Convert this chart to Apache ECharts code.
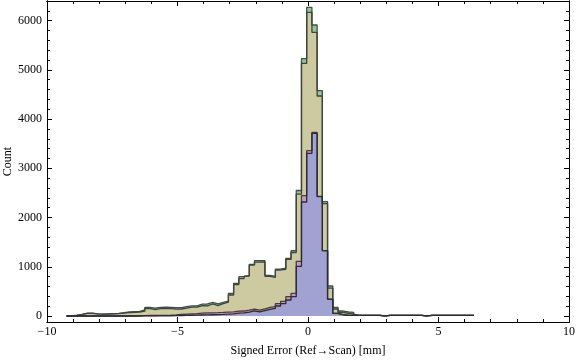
<!DOCTYPE html>
<html>
<head>
<meta charset="utf-8">
<script src="https://cdn.jsdelivr.net/npm/echarts@6/dist/echarts.min.js"></script>
<style>
html, body { margin: 0; padding: 0; background: #fff; }
#chart { width: 576px; height: 362px; }
</style>
</head>
<body>
<div id="chart"></div>
<script>
// histogram bins: left edge of first bin and bin width (mm)
var binStart = -9.25;
var binWidth = 0.2;

var greenCounts = [3, 15, 35, 60, 60, 45, 40, 45, 50, 55,
    70, 85, 90, 95, 125, 176, 160, 176, 178, 176,
    170, 172, 190, 205, 205, 240, 244, 276, 246, 276,
    300, 461, 664, 799, 825, 1050, 1124, 1124, 826, 805,
    952, 970, 1172, 1327, 2550, 5228, 6270, 5912, 4578, 2323,
    609, 176, 101, 81, 75,
    14, 14, 14, 14, 14, 3, 14, 14, 14, 14, 14, 14, 14, 3, 14, 14, 14, 14, 14, 14, 14, 14, 14];
var tanCounts = [3, 14, 33, 55, 55, 42, 37, 40, 45, 48,
    58, 70, 75, 80, 100, 150, 130, 150, 152, 150,
    140, 142, 162, 180, 180, 210, 205, 244, 212, 250,
    280, 427, 640, 760, 810, 1035, 1095, 1100, 805, 785,
    935, 950, 1150, 1290, 2475, 5133, 6170, 5764, 4470, 2285,
    565, 142, 75, 54, 40,
    13, 13, 13, 13, 13, 3, 13, 13, 13, 13, 13, 13, 13, 3, 13, 13, 13, 13, 13, 13, 13, 13, 13];
var pinkCounts = [0, 0, 0, 0, 0, 0, 0, 0, 0, 0,
    0, 0, 0, 5, 8, 10, 10, 12, 14, 15,
    20, 30, 40, 45, 50, 58, 62, 65, 68, 72,
    80, 85, 100, 101, 120, 140, 118, 145, 176, 190,
    250, 298, 393, 461, 1111, 2445, 3358, 3730, 2430, 1330,
    340, 55, 27, 15, 14,
    12, 12, 12, 12, 12, 2, 12, 12, 12, 12, 12, 12, 12, 2, 12, 12, 12, 12, 12, 12, 12, 12, 12];
var blueCounts = [0, 0, 0, 0, 0, 0, 0, 0, 0, 0,
    0, 0, 0, 0, 2, 3, 3, 4, 5, 5,
    7, 10, 12, 15, 17, 20, 22, 25, 28, 32,
    38, 45, 60, 65, 80, 105, 85, 110, 135, 156,
    203, 250, 325, 393, 1009, 2316, 3305, 3711, 2424, 1327,
    339, 54, 25, 14, 12,
    11, 11, 11, 11, 11, 2, 11, 11, 11, 11, 11, 11, 11, 2, 11, 11, 11, 11, 11, 11, 11, 11, 11];

var yMajorTicks = [0, 1000, 2000, 3000, 4000, 5000, 6000];
var yMinorStep = 200;

var yMinorTicks = [];
for (var t = 0; t <= 6400; t += yMinorStep) {
    if (t % 1000 !== 0) yMinorTicks.push(t);
}

// step outline points for one histogram series
function steps(counts) {
    var pts = [[binStart, 0]];
    for (var i = 0; i < counts.length; i++) {
        pts.push([+(binStart + i * binWidth).toFixed(2), counts[i]]);
    }
    pts.push([+(binStart + counts.length * binWidth).toFixed(2), 0]);
    return pts;
}

var font = 'Liberation Serif';

function minusFmt(v) {
    return v < 0 ? '\u2212' + (-v) : String(v);
}

function xAx(pos, interval, len, labels) {
    return {
        type: 'value', position: pos, min: -10, max: 10, interval: interval,
        axisLine: { show: true, onZero: false, lineStyle: { color: '#000', width: 1 } },
        axisTick: { show: true, inside: true, length: len, lineStyle: { color: '#000', width: 1 } },
        axisLabel: labels ? { show: true, color: '#000', fontFamily: font, fontSize: 12, margin: 4, formatter: minusFmt } : { show: false },
        splitLine: { show: false }
    };
}

function yAx(pos, ticks, len, labels) {
    return {
        type: 'value', position: pos, min: -122, max: 6400,
        axisLine: { show: true, onZero: false, lineStyle: { color: '#000', width: 1 } },
        axisTick: { show: true, inside: true, length: len, customValues: ticks, lineStyle: { color: '#000', width: 1 } },
        axisLabel: labels ? { show: true, customValues: ticks, color: '#000', fontFamily: font, fontSize: 12, margin: 5, formatter: function (v) { return String(v); } } : { show: false },
        splitLine: { show: false }
    };
}

var xAxes = [xAx('bottom', 5, 5, true), xAx('bottom', 1, 3, false), xAx('top', 5, 5, false), xAx('top', 1, 3, false)];
xAxes[0].name = 'Signed Error (Ref\u2192Scan) [mm]';
xAxes[0].nameLocation = 'middle';
xAxes[0].nameGap = 23;
xAxes[0].nameMoveOverlap = false;
xAxes[0].nameTextStyle = { color: '#000', fontFamily: font, fontSize: 12 };

var yAxes = [yAx('left', yMajorTicks, 5, true), yAx('left', yMinorTicks, 3, false), yAx('right', yMajorTicks, 5, false), yAx('right', yMinorTicks, 3, false)];
yAxes[0].name = 'Count';
yAxes[0].nameLocation = 'middle';
yAxes[0].nameGap = 33;
yAxes[0].nameMoveOverlap = false;
yAxes[0].nameTextStyle = { color: '#000', fontFamily: font, fontSize: 12 };

function hist(name, counts, fill, edge) {
    return {
        name: name, type: 'line', step: 'end', symbol: 'none',
        xAxisIndex: 0, yAxisIndex: 0,
        data: steps(counts),
        lineStyle: { color: edge, width: 1.3 },
        areaStyle: { color: fill, opacity: 1 }
    };
}

var chart = echarts.init(document.getElementById('chart'), null, { renderer: 'canvas' });
chart.setOption({
    animation: false,
    grid: { left: 47, right: 7, top: 1, bottom: 40, containLabel: false, outerBoundsMode: 'none' },
    xAxis: xAxes,
    yAxis: yAxes,
    series: [
        hist('green', greenCounts, '#93c4a1', '#3d5245'),
        hist('tan', tanCounts, '#cdc9a0', '#3e4438'),
        hist('pink', pinkCounts, '#c99bbb', '#4a3a46'),
        hist('blue', blueCounts, '#a2a2d2', '#2a2a38')
    ]
});
</script>
</body>
</html>
